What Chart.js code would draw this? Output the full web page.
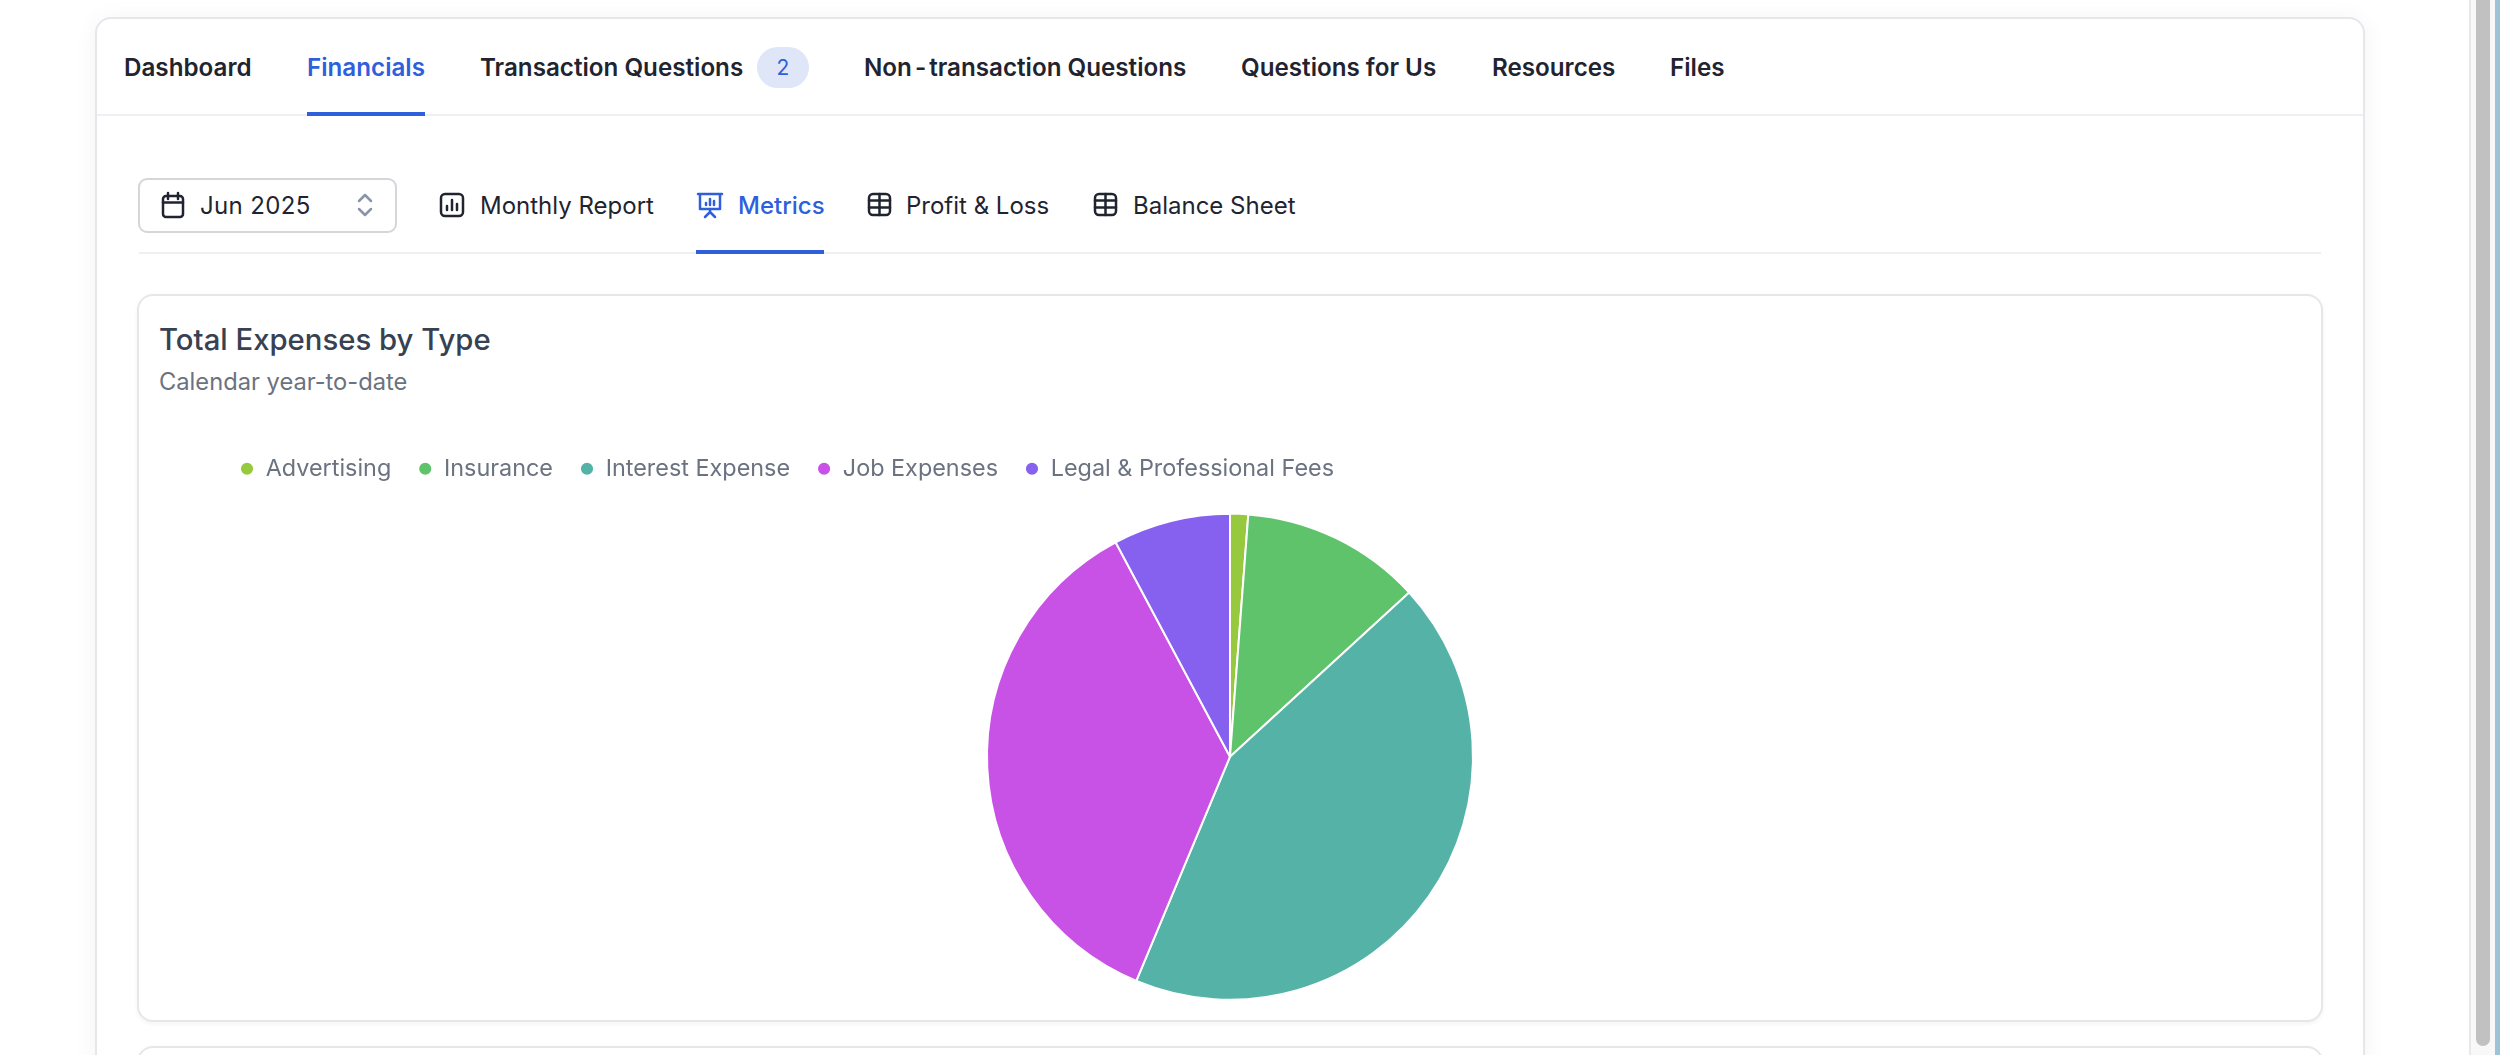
<!DOCTYPE html>
<html lang="en">
<head>
<meta charset="utf-8">
<title>Total Expenses by Type</title>
<script src="https://cdn.jsdelivr.net/npm/chart.js@4/dist/chart.umd.min.js"></script>
<style>
    html, body { margin: 0; padding: 0; background: #fff; overflow: hidden; }
    body { width: 2500px; height: 1055px; position: relative; font-family: Inter, sans-serif; color: #1f2430; }
    .box { position: absolute; box-sizing: border-box; background: #fff; }
    .outer { left: 95px; top: 17px; width: 2270px; height: 1060px; border: 2px solid #e5e7eb; border-radius: 16px; box-shadow: 0 2px 24px rgba(30, 30, 60, 0.05); }
    .card { left: 137px; width: 2186px; border: 2px solid #e5e7eb; border-radius: 16px; box-shadow: 0 2px 4px rgba(30, 30, 60, 0.05); }
    .line { position: absolute; background: #eef0f3; }
    .mark { position: absolute; background: #2f5fdc; }
    .t { position: absolute; white-space: nowrap; line-height: 34px; height: 34px; font-size: 24px; }
    .nav { font-weight: 600; top: 51px; font-size: 24.2px; }
    .sub { font-weight: 400; top: 189px; }
    .blue { color: #2f5fdc; }
    .badge { position: absolute; left: 757px; top: 47px; width: 52px; height: 41px; border-radius: 21px; background: #dfe6f8; color: #2f5fdc; font-size: 21px; line-height: 41px; text-align: center; }
    .select { left: 138px; top: 178px; width: 259px; height: 55px; border: 2px solid #d4d6da; border-radius: 9px; }
    svg.i { position: absolute; fill: none; stroke: #1f2430; stroke-width: 2.5; stroke-linecap: round; stroke-linejoin: round; }
    #chartBox { position: absolute; left: 160px; top: 430px; width: 2140px; height: 593px; }
    .track { position: absolute; left: 2469px; top: 0; width: 26px; height: 1055px; background: #f8f8f8; border-left: 2px solid #e8e8e8; box-sizing: border-box; }
    .thumb { position: absolute; left: 2476px; top: -10px; width: 14px; height: 1056px; border-radius: 7px; background: #c1c1c1; }
    .edge { position: absolute; left: 2495px; top: 0; width: 5px; height: 1055px; background: #9dc3d9; }
</style>
</head>
<body>
<div class="box outer"></div>
<div class="line" style="left:97px;top:114px;width:2266px;height:2px"></div>

<div class="t nav" style="left:124px">Dashboard</div>
<div class="t nav blue" style="left:307px">Financials</div>
<div class="mark" style="left:307px;top:112px;width:118px;height:4px"></div>
<div class="t nav" style="left:480px">Transaction Questions</div>
<div class="badge">2</div>
<div class="t nav" style="left:864px">Non<span style="margin:0 3px">-</span>transaction Questions</div>
<div class="t nav" style="left:1241px">Questions for Us</div>
<div class="t nav" style="left:1492px">Resources</div>
<div class="t nav" style="left:1670px">Files</div>

<div class="box select"></div>
<svg class="i" style="left:160px;top:191px" width="26" height="29" viewBox="0 0 26 29">
    <rect x="3" y="5" width="20" height="21" rx="3"/><path d="M3 11.5h20M8 2v6M18 2v6"/>
</svg>
<div class="t sub" style="left:200px;letter-spacing:0.35px">Jun 2025</div>
<svg class="i" style="left:355px;top:192px;stroke:#8a94a8" width="20" height="26" viewBox="0 0 20 26">
    <path d="M4 9l6-6 6 6M4 17l6 6 6-6"/>
</svg>

<svg class="i" style="left:439px;top:192px" width="26" height="26" viewBox="0 0 26 26">
    <rect x="2" y="2" width="22" height="22" rx="4"/><path d="M8 18v-4M13 18V8M18 18v-6"/>
</svg>
<div class="t sub" style="left:480px">Monthly Report</div>

<svg class="i" style="left:696px;top:191px;stroke:#2f5fdc" width="28" height="28" viewBox="0 0 28 28">
    <path d="M2 3h24M4 3v15h20V3M14 18v3M9 26l5-5 5 5M10 14v-2M14 14V8M18 14v-4"/>
</svg>
<div class="t sub blue" style="left:738px;font-weight:500">Metrics</div>
<div class="line" style="left:139px;top:252px;width:2182px;height:2px"></div>
<div class="mark" style="left:696px;top:250px;width:128px;height:4px"></div>

<svg class="i" style="left:867px;top:192px" width="25" height="25" viewBox="0 0 25 25">
    <rect x="2" y="2" width="21" height="21" rx="4"/><path d="M2 8.5h21M2 15.5h21M12.5 2V23"/>
</svg>
<div class="t sub" style="left:906px">Profit &amp; Loss</div>

<svg class="i" style="left:1093px;top:192px" width="25" height="25" viewBox="0 0 25 25">
    <rect x="2" y="2" width="21" height="21" rx="4"/><path d="M2 8.5h21M2 15.5h21M12.5 2V23"/>
</svg>
<div class="t sub" style="left:1133px">Balance Sheet</div>

<div class="box card" style="top:294px;height:728px"></div>
<div class="box card" style="top:1046px;height:60px"></div>
<div class="t" style="left:159px;top:323px;font-size:29.3px;font-weight:500;color:#374151">Total Expenses by Type</div>
<div class="t" style="left:159px;top:365px;font-size:23.7px;color:#6b7280">Calendar year-to-date</div>

<div id="chartBox"><canvas id="expensesChart" width="2140" height="593"></canvas></div>

<div class="track"></div>
<div class="thumb"></div>
<div class="edge"></div>

<script>
    // Valores (porcentaje aproximado de cada tipo)
    const expenseTypes = ['Advertising', 'Insurance', 'Interest Expense', 'Job Expenses', 'Legal & Professional Fees'];
    const expenseValues = [1.2, 12.0, 43.1, 35.9, 7.8];
    const sliceColors = ['#96c93d', '#5fc36b', '#54b3a6', '#c952e6', '#8660ee'];

    new Chart(document.getElementById('expensesChart').getContext('2d'), {
        type: 'pie',
        data: {
            labels: expenseTypes,
            datasets: [{
                data: expenseValues,
                backgroundColor: sliceColors,
                borderColor: '#ffffff',
                borderWidth: 2,
                radius: 243
            }]
        },
        options: {
            responsive: false,
            animation: false,
            layout: { padding: { left: 53, right: 53 } },
            plugins: {
                tooltip: { enabled: false },
                legend: {
                    position: 'top',
                    align: 'start',
                    labels: {
                        usePointStyle: true,
                        pointStyle: 'circle',
                        boxWidth: 14,
                        boxHeight: 10,
                        padding: 27,
                        color: '#6b7280',
                        font: { family: 'Inter', size: 23.4 }
                    }
                }
            }
        }
    });
</script>
</body>
</html>
